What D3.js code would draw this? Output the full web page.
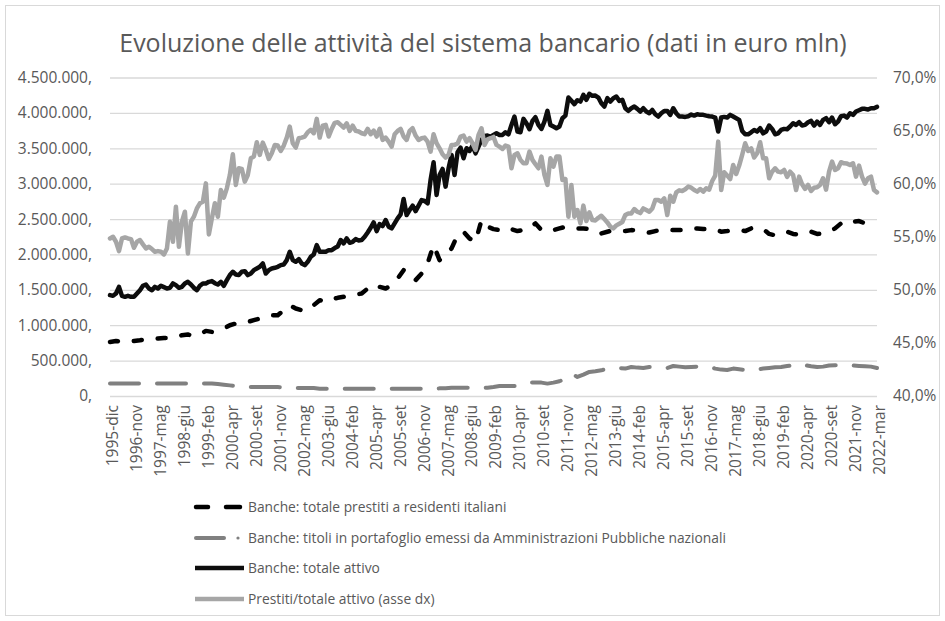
<!DOCTYPE html>
<html>
<head>
<meta charset="utf-8">
<script src="https://cdn.jsdelivr.net/npm/d3@7"></script>
<style>
  html, body { margin: 0; padding: 0; background: #ffffff; }
  svg { display: block; }
  text { font-family: "Open Sans", "Noto Sans", sans-serif; fill: #595959; }
</style>
</head>
<body>
<svg id="chart" width="945" height="621"></svg>
<script>
// Category labels shown on the x axis
const tickLabels = [
  "1995-dic", "1996-nov", "1997-mag", "1998-giu", "1999-feb", "2000-apr", "2000-set",
  "2001-nov", "2002-mag", "2003-giu", "2004-feb", "2005-apr", "2005-set", "2006-nov",
  "2007-mag", "2008-giu", "2009-feb", "2010-apr", "2010-set", "2011-nov", "2012-mag",
  "2013-giu", "2014-feb", "2015-apr", "2015-set", "2016-nov", "2017-mag", "2018-giu",
  "2019-feb", "2020-apr", "2020-set", "2021-nov", "2022-mar"
];
// observations per labelled interval
const COARSE_STEP = 4;   // loans and government bonds
const FINE_STEP = 8;     // total assets and loans/assets ratio

// Banche: totale prestiti a residenti italiani (euro mln)
const prestiti = [
  764000, 778000, 764000, 771000, 778000, 788000, 802000, 811000, 811000, 821000,
  821000, 835000, 858000, 868000, 849000, 868000, 920000, 906000, 929000, 953000,
  1000000, 1024000, 1024000, 1047000, 1071000, 1094000, 1118000, 1141000, 1141000, 1212000,
  1283000, 1236000, 1212000, 1212000, 1283000, 1354000, 1330000, 1368000, 1387000, 1401000,
  1425000, 1434000, 1448000, 1519000, 1575000, 1542000, 1519000, 1566000, 1660000, 1778000,
  1708000, 1637000, 1731000, 1873000, 2132000, 1920000, 1991000, 2085000, 2274000, 2321000,
  2226000, 2179000, 2486000, 2392000, 2358000, 2344000, 2321000, 2358000, 2330000, 2344000,
  2368000, 2439000, 2344000, 2358000, 2344000, 2368000, 2391000, 2368000, 2368000, 2368000,
  2360000, 2344000, 2297000, 2321000, 2340000, 2330000, 2330000, 2344000, 2340000, 2321000,
  2310000, 2330000, 2344000, 2350000, 2344000, 2344000, 2350000, 2368000, 2368000, 2358000,
  2358000, 2358000, 2321000, 2330000, 2344000, 2344000, 2330000, 2368000, 2380000, 2358000,
  2290000, 2270000, 2300000, 2321000, 2290000, 2280000, 2300000, 2321000, 2290000, 2297000,
  2321000, 2368000, 2439000, 2415000, 2462000, 2472000, 2439000, 2415000, 2391000
];

// Banche: titoli in portafoglio emessi da Amministrazioni Pubbliche nazionali (euro mln)
const titoliPA = [
  175000, 175000, 175000, 175000, 175000, 175000, 175000, 175000, 175000, 175000,
  175000, 175000, 175000, 175000, 175000, 175000, 175000, 178000, 170000, 160000,
  150000, 140000, 132000, 127000, 127000, 127000, 127000, 127000, 127000, 120000,
  115000, 113000, 113000, 113000, 113000, 104000, 104000, 104000, 104000, 104000,
  104000, 104000, 104000, 104000, 104000, 104000, 104000, 104000, 104000, 104000,
  104000, 104000, 104000, 104000, 106000, 108000, 110000, 118000, 118000, 118000,
  118000, 118000, 118000, 118000, 127000, 141000, 141000, 141000, 141000, 175000,
  189000, 189000, 189000, 175000, 189000, 208000, 245000, 316000, 269000, 302000,
  340000, 349000, 363000, 387000, 396000, 396000, 387000, 410000, 401000, 396000,
  410000, 406000, 396000, 396000, 424000, 415000, 406000, 410000, 415000, 410000,
  410000, 387000, 373000, 368000, 387000, 377000, 368000, 363000, 377000, 387000,
  396000, 406000, 410000, 424000, 434000, 457000, 434000, 420000, 410000, 415000,
  430000, 434000, 434000, 430000, 430000, 425000, 420000, 415000, 395000
];

// Banche: totale attivo (euro mln)
const totaleAttivo = [
  1425000, 1415000, 1448000, 1542000, 1415000, 1401000, 1415000, 1401000, 1401000, 1448000,
  1495000, 1557000, 1575000, 1519000, 1495000, 1542000, 1519000, 1557000, 1538000, 1519000,
  1528000, 1590000, 1566000, 1528000, 1542000, 1590000, 1613000, 1575000, 1528000, 1495000,
  1557000, 1590000, 1590000, 1613000, 1623000, 1594000, 1575000, 1613000, 1557000, 1637000,
  1708000, 1755000, 1717000, 1708000, 1755000, 1764000, 1708000, 1731000, 1778000, 1802000,
  1825000, 1873000, 1731000, 1778000, 1802000, 1811000, 1825000, 1849000, 1858000, 1920000,
  2038000, 1920000, 1896000, 1934000, 1873000, 1849000, 1896000, 1967000, 2000000, 2132000,
  2038000, 2038000, 2038000, 2061000, 2061000, 2090000, 2113000, 2203000, 2156000, 2226000,
  2165000, 2179000, 2217000, 2198000, 2203000, 2250000, 2311000, 2377000, 2453000, 2330000,
  2429000, 2401000, 2486000, 2392000, 2368000, 2439000, 2509000, 2566000, 2783000, 2557000,
  2627000, 2689000, 2613000, 2689000, 2769000, 2755000, 2722000, 3052000, 3302000, 2840000,
  3123000, 3208000, 2958000, 3217000, 3406000, 3123000, 3443000, 3509000, 3359000, 3500000,
  3462000, 3538000, 3429000, 3524000, 3618000, 3675000, 3679000, 3665000, 3689000, 3712000,
  3689000, 3689000, 3726000, 3698000, 3830000, 3948000, 3736000, 3726000, 3915000, 3854000,
  3769000, 3887000, 3939000, 3830000, 3774000, 3877000, 4028000, 3830000, 3807000, 3783000,
  3807000, 3925000, 3962000, 4217000, 4170000, 4123000, 4179000, 4160000, 4255000, 4184000,
  4269000, 4241000, 4245000, 4217000, 4137000, 4090000, 4208000, 4160000, 4208000, 4231000,
  4170000, 4184000, 4066000, 4028000, 4066000, 4090000, 4057000, 4019000, 4066000, 4019000,
  3995000, 4042000, 3981000, 3948000, 3995000, 4028000, 4028000, 3972000, 4066000, 3995000,
  3948000, 3948000, 3943000, 3953000, 3976000, 3962000, 3981000, 3972000, 3972000, 3962000,
  3953000, 3948000, 3934000, 3736000, 3934000, 3943000, 3934000, 3972000, 3948000, 3925000,
  3901000, 3745000, 3698000, 3698000, 3726000, 3759000, 3736000, 3783000, 3712000, 3736000,
  3821000, 3774000, 3698000, 3712000, 3759000, 3774000, 3769000, 3807000, 3854000, 3830000,
  3868000, 3821000, 3830000, 3868000, 3887000, 3821000, 3877000, 3830000, 3901000, 3925000,
  3868000, 3934000, 3840000, 3877000, 3953000, 3962000, 3934000, 3995000, 3972000, 4019000,
  4038000, 4057000, 4057000, 4047000, 4066000, 4066000, 4085000
];

// Prestiti/totale attivo, percent (right axis)
const rapporto = [
  54.84, 55.00, 54.53, 53.65, 54.84, 54.94, 54.84, 54.78, 53.96, 54.53,
  54.69, 54.28, 53.90, 54.06, 53.84, 53.59, 53.65, 53.59, 53.33, 53.90,
  56.42, 54.53, 57.83, 54.06, 56.42, 57.36, 53.43, 56.42, 56.89, 57.67,
  58.15, 58.30, 60.03, 55.22, 56.73, 58.15, 56.89, 59.40, 58.68, 59.56,
  60.82, 62.77, 59.88, 61.45, 61.39, 60.19, 60.82, 62.39, 62.55, 63.90,
  62.71, 63.87, 63.18, 62.33, 62.86, 63.65, 63.59, 63.08, 63.59, 64.34,
  65.38, 63.81, 63.40, 64.28, 64.34, 64.44, 64.85, 65.07, 64.75, 66.10,
  64.34, 65.47, 65.54, 64.44, 65.16, 65.73, 65.79, 65.54, 65.29, 65.69,
  64.97, 65.47, 64.97, 64.91, 64.75, 64.66, 65.16, 64.66, 65.00, 64.44,
  65.16, 64.12, 64.34, 63.96, 63.49, 64.66, 64.97, 65.16, 64.44, 64.12,
  64.97, 65.22, 64.53, 64.12, 64.28, 64.34, 63.96, 63.02, 64.66, 63.81,
  63.33, 62.77, 62.46, 62.71, 63.65, 63.65, 63.78, 64.44, 64.53, 63.96,
  64.28, 63.81, 63.18, 64.59, 65.22, 63.65, 64.18, 64.28, 64.40, 63.65,
  63.49, 63.27, 63.59, 63.49, 61.45, 62.71, 62.86, 62.24, 61.92, 61.92,
  63.02, 62.24, 61.83, 61.45, 62.55, 60.82, 59.88, 62.39, 61.61, 62.55,
  62.55, 60.35, 60.44, 56.89, 59.88, 56.89, 57.52, 56.26, 57.93, 56.48,
  57.30, 56.57, 56.54, 56.79, 56.98, 56.67, 56.35, 55.95, 55.79, 56.07,
  56.23, 56.39, 57.05, 57.20, 57.20, 57.61, 57.36, 57.23, 57.67, 57.52,
  57.36, 57.67, 58.46, 58.46, 58.30, 58.62, 57.05, 58.87, 58.30, 59.18,
  59.37, 59.31, 59.47, 59.72, 59.62, 59.40, 59.25, 59.50, 59.25, 59.56,
  59.44, 60.25, 60.76, 63.96, 59.40, 61.07, 60.76, 60.44, 61.76, 60.91,
  61.70, 62.71, 63.81, 63.08, 63.33, 62.46, 62.86, 63.90, 62.39, 62.39,
  60.51, 61.13, 61.45, 61.13, 61.07, 61.29, 60.63, 61.13, 60.82, 59.40,
  60.66, 59.94, 59.50, 59.88, 59.31, 59.62, 59.66, 59.88, 60.51, 59.44,
  61.13, 62.08, 61.29, 61.45, 62.02, 61.92, 61.89, 61.76, 61.92, 60.66,
  61.70, 60.66, 60.00, 60.51, 60.66, 59.40, 59.18
];

const leftTicks = [0, 500000, 1000000, 1500000, 2000000, 2500000, 3000000, 3500000, 4000000, 4500000];
const rightTicks = [40, 45, 50, 55, 60, 65, 70];

const titleText = "Evoluzione delle attività del sistema bancario (dati in euro mln)";
const legendLabels = [
  "Banche: totale prestiti a residenti italiani",
  "Banche: titoli in portafoglio emessi da Amministrazioni Pubbliche nazionali",
  "Banche: totale attivo",
  "Prestiti/totale attivo (asse dx)"
];

// ---- layout -------------------------------------------------------------
const W = 945, H = 621;
const plot = { left: 110, right: 877, top: 77.5, bottom: 396 };

const itLocale = d3.formatLocale({ decimal: ",", thousands: ".", grouping: [3], currency: ["€", ""] });
const fmtInt = itLocale.format(",.0f");
const fmtPct = itLocale.format(",.1f");

const svg = d3.select("#chart");

// outer chart border
svg.append("rect")
  .attr("x", 5.5).attr("y", 5.5)
  .attr("width", W - 11).attr("height", H - 11)
  .attr("fill", "#ffffff")
  .attr("stroke", "#d9d9d9").attr("stroke-width", 1);

// x runs over labelled intervals; each series samples it at its own step
const x = d3.scaleLinear().domain([0, tickLabels.length - 1]).range([plot.left, plot.right]);
const yL = d3.scaleLinear().domain([0, 4500000]).range([plot.bottom, plot.top]);
const yR = d3.scaleLinear().domain([40, 70]).range([plot.bottom, plot.top]);

// horizontal gridlines
svg.append("g")
  .attr("transform", `translate(${plot.left},0)`)
  .call(d3.axisLeft(yL).tickValues(leftTicks).tickSize(-(plot.right - plot.left)).tickFormat(""))
  .call(g => g.select(".domain").remove())
  .call(g => g.selectAll(".tick line").attr("stroke", "#d9d9d9").attr("stroke-width", 1.3));

// left axis labels
svg.append("g")
  .attr("transform", `translate(${plot.left},0)`)
  .call(d3.axisLeft(yL).tickValues(leftTicks).tickSize(0).tickPadding(18)
    .tickFormat(d => fmtInt(d) + ","))
  .call(g => g.select(".domain").remove())
  .call(g => g.selectAll("text").attr("font-size", 15.5).attr("fill", "#595959")
    .style("font-family", '"Open Sans", sans-serif'));

// right axis labels
svg.append("g")
  .attr("transform", `translate(${plot.right},0)`)
  .call(d3.axisRight(yR).tickValues(rightTicks).tickSize(0).tickPadding(16)
    .tickFormat(d => fmtPct(d) + "%"))
  .call(g => g.select(".domain").remove())
  .call(g => g.selectAll("text").attr("font-size", 15.5).attr("fill", "#595959")
    .style("font-family", '"Open Sans", sans-serif'));

// x axis category labels, rotated
svg.append("g")
  .attr("transform", `translate(0,${plot.bottom})`)
  .call(d3.axisBottom(x).tickValues(d3.range(tickLabels.length)).tickSize(0)
    .tickFormat(d => tickLabels[d]))
  .call(g => g.select(".domain").remove())
  .call(g => g.selectAll("text")
    .attr("font-size", 15.5).attr("fill", "#595959")
    .style("font-family", '"Open Sans", sans-serif')
    .attr("text-anchor", "end")
    .attr("dy", "0.35em")
    .attr("transform", "translate(2,9) rotate(-90)")
    .attr("x", 0).attr("y", 0));

// series
const lineAt = (step, y) => d3.line().x((d, i) => x(i / step)).y(d => y(d));

const series = [
  { data: prestiti, gen: lineAt(COARSE_STEP, yL), color: "#000000", width: 4.5, dash: "8,16" },
  { data: titoliPA, gen: lineAt(COARSE_STEP, yL), color: "#808080", width: 4, dash: "29,18" },
  { data: totaleAttivo, gen: lineAt(FINE_STEP, yL), color: "#0d0d0d", width: 4.5, dash: null },
  { data: rapporto, gen: lineAt(FINE_STEP, yR), color: "#a6a6a6", width: 4.5, dash: null }
];

svg.append("g").selectAll("path")
  .data(series)
  .join("path")
  .attr("d", s => s.gen(s.data))
  .attr("fill", "none")
  .attr("stroke", s => s.color)
  .attr("stroke-width", s => s.width)
  .attr("stroke-linejoin", "round")
  .attr("stroke-linecap", "round")
  .attr("stroke-dasharray", s => s.dash);

// title
svg.append("text")
  .attr("x", 483).attr("y", 52)
  .attr("text-anchor", "middle")
  .attr("font-size", 25)
  .text(titleText);

// legend
const legY = [507, 538, 568, 599];
const leg = svg.append("g");
legendLabels.forEach((label, i) => {
  const g = leg.append("g").attr("transform", `translate(0,${legY[i]})`);
  const s = series[i];
  if (i === 0) {
    g.append("line").attr("x1", 196).attr("x2", 208).attr("y1", 0).attr("y2", 0)
      .attr("stroke", s.color).attr("stroke-width", s.width).attr("stroke-linecap", "round");
    g.append("line").attr("x1", 226).attr("x2", 240).attr("y1", 0).attr("y2", 0)
      .attr("stroke", s.color).attr("stroke-width", s.width).attr("stroke-linecap", "round");
  } else if (i === 1) {
    g.append("line").attr("x1", 196).attr("x2", 224).attr("y1", 0).attr("y2", 0)
      .attr("stroke", s.color).attr("stroke-width", s.width).attr("stroke-linecap", "round");
    g.append("circle").attr("cx", 238).attr("cy", 0).attr("r", 1.6).attr("fill", s.color);
  } else {
    g.append("line").attr("x1", 195).attr("x2", 244).attr("y1", 0).attr("y2", 0)
      .attr("stroke", s.color).attr("stroke-width", s.width).attr("stroke-linecap", "butt");
  }
  g.append("text").attr("x", 248).attr("y", 0).attr("dy", "0.35em")
    .attr("font-size", 13.8).text(label);
});
</script>
</body>
</html>
